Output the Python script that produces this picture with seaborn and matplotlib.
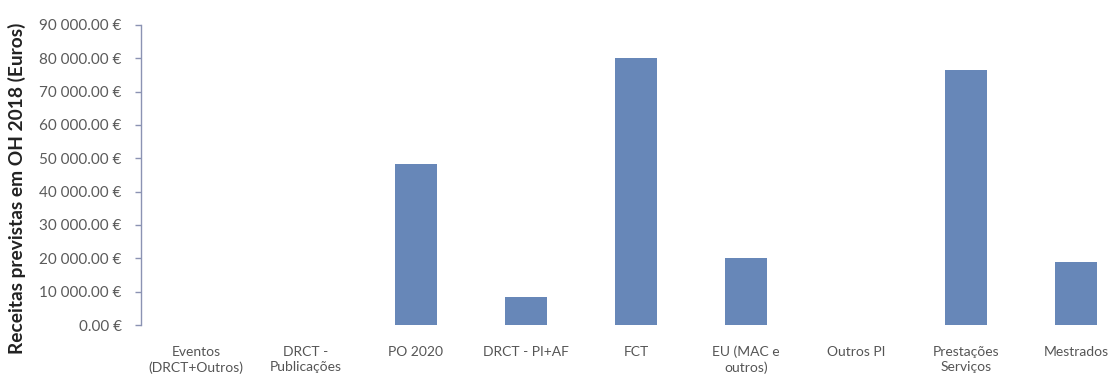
import matplotlib
matplotlib.use("Agg")
import matplotlib.pyplot as plt
import matplotlib.ticker as mticker
import seaborn as sns
import pandas as pd

# Planned overhead revenue per source, 2018 (euros)
categories = [
    "Eventos\n(DRCT+Outros)",
    "DRCT -\nPublicações",
    "PO 2020",
    "DRCT - PI+AF",
    "FCT",
    "EU (MAC e\noutros)",
    "Outros PI",
    "Prestações\nServiços",
    "Mestrados",
]
receitas = [0, 0, 48300, 8400, 80000, 20000, 0, 76500, 18900]

y_ticks = [0, 10000, 20000, 30000, 40000, 50000, 60000, 70000, 80000, 90000]
y_label = "Receitas previstas em OH 2018 (Euros)"

df = pd.DataFrame({"fonte": categories, "receita": receitas})

sns.set_theme(style="white")
plt.rcParams["font.family"] = ["Lato", "DejaVu Sans"]

fig = plt.figure(figsize=(11.17, 3.76), dpi=100)
ax = fig.add_axes([0.1262, 0.1356, 0.8863, 0.798])

sns.barplot(data=df, x="fonte", y="receita", color="#6787b8",
            width=0.39, linewidth=0, saturation=1, ax=ax)

ax.set_ylim(0, 90000)
ax.set_xlim(-0.5, len(categories) - 0.5)
ax.set_yticks(y_ticks)
ax.yaxis.set_major_formatter(mticker.FuncFormatter(
    lambda v, _: f"{v:,.2f} €".replace(",", " ")))

for side in ("top", "right", "bottom"):
    ax.spines[side].set_visible(False)
ax.spines["left"].set_color("#8b93b3")
ax.spines["left"].set_linewidth(1.0)

ax.tick_params(axis="y", left=True, length=4, width=1, color="#8b93b3",
               pad=10, labelsize=11, labelcolor="#5a5a5a")
ax.tick_params(axis="x", bottom=False, pad=9, labelsize=10, labelcolor="#555555")
for lbl in ax.get_xticklabels():
    lbl.set_linespacing(1.3)
    lbl.set_verticalalignment("top")

ax.set_xlabel("")
ax.set_ylabel(y_label, fontsize=13.8, fontweight="bold", color="#222222")
ax.yaxis.set_label_coords(-0.116, 0.457)

fig.savefig("out.png", dpi=100, facecolor="white")
